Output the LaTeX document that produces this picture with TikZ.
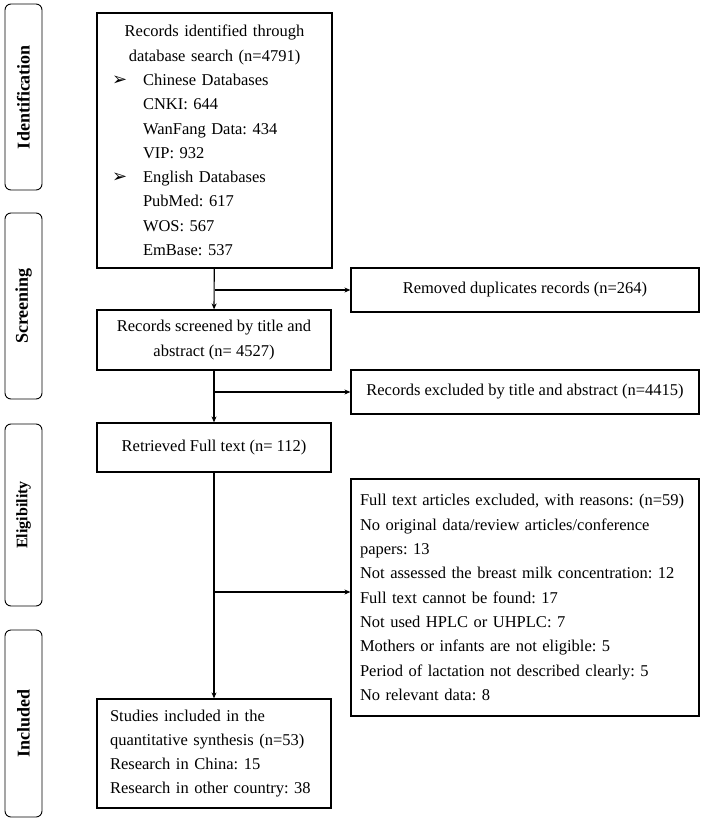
\documentclass[tikz,border=0pt]{standalone}
\usepackage{fontspec}
\setmainfont{Liberation Serif}
\newfontfamily\symfont{DejaVu Sans}
\usepackage{tikz}
\usetikzlibrary{arrows.meta}
\frenchspacing

\begin{document}
\begin{tikzpicture}[x=1pt,y=-1pt,
    box/.style={draw,line width=1.2pt,inner sep=0pt,font=\fontsize{16.5}{24.3}\selectfont},
    stage/.style={draw,line width=0.9pt,rounded corners=6pt,rotate=90,minimum width=#1,minimum height=37pt,inner sep=0pt,font=\fontsize{18}{20}\selectfont\bfseries},
    arr/.style={line width=1.2pt,-{Stealth[length=6pt,width=5pt]}}]
  \useasboundingbox (0,0) rectangle (702,821);
  % stages on the left
  \node[stage=186] (sid) at (23.5,97) {Identification};
  \node[stage=186] (ssc) at (23.5,306) {Screening};
  \node[stage=182,font=\fontsize{16}{20}\selectfont\bfseries] (sel) at (23.5,515) {Eligibility};
  \node[stage=187] (sin) at (23.5,723.5) {Included};
  % main column
  \node[box,minimum width=235,minimum height=255,text width=205,align=left] (ident) at (214.5,140.5) {%
    \makebox[\linewidth]{Records identified through}\\
    \makebox[\linewidth]{database search (n=4791)}\\
    \makebox[31pt][l]{\symfont\fontsize{18}{20}\selectfont ➢}Chinese Databases\\
    \hspace*{31pt}CNKI: 644\\
    \hspace*{31pt}WanFang Data: 434\\
    \hspace*{31pt}VIP: 932\\
    \makebox[31pt][l]{\symfont\fontsize{18}{20}\selectfont ➢}English Databases\\
    \hspace*{31pt}PubMed: 617\\
    \hspace*{31pt}WOS: 567\\
    \hspace*{31pt}EmBase: 537};
  \node[box,minimum width=234,minimum height=60,align=center] (screened) at (214,340) {Records screened by title and\\abstract (n= 4527)};
  \node[box,minimum width=234,minimum height=49] (retrieved) at (214,447.5) {Retrieved Full text (n= 112)};
  \node[box,minimum width=234,minimum height=109,text width=208,align=left] (incl) at (214,753.5) {Studies included in the\\quantitative synthesis (n=53)\\Research in China: 15\\Research in other country: 38};
  % right column
  \node[box,minimum width=348,minimum height=44] (removed) at (525,290) {Removed duplicates records (n=264)};
  \node[box,minimum width=348,minimum height=44] (excluded) at (525,392) {Records excluded by title and abstract (n=4415)};
  \node[box,minimum width=348,minimum height=237,text width=330,align=left] (reasons) at (525,597.5) {Full text articles excluded, with reasons: (n=59)\\No original data/review articles/conference\\papers: 13\\Not assessed the breast milk concentration: 12\\Full text cannot be found: 17\\Not used HPLC or UHPLC: 7\\Mothers or infants are not eligible: 5\\Period of lactation not described clearly: 5\\No relevant data: 8};
  % connectors
  \coordinate (j1) at (ident.south |- removed.west);
  \coordinate (j2) at (screened.south |- excluded.west);
  \coordinate (j3) at (214,592);
  \draw[arr] (ident) -- (screened);
  \draw[arr] (j1) -- (removed);
  \draw[arr] (screened) -- (retrieved);
  \draw[arr] (j2) -- (excluded);
  \draw[arr] (retrieved) -- (incl);
  \draw[arr] (j3) -- (j3 -| reasons.west);
\end{tikzpicture}
\end{document}
